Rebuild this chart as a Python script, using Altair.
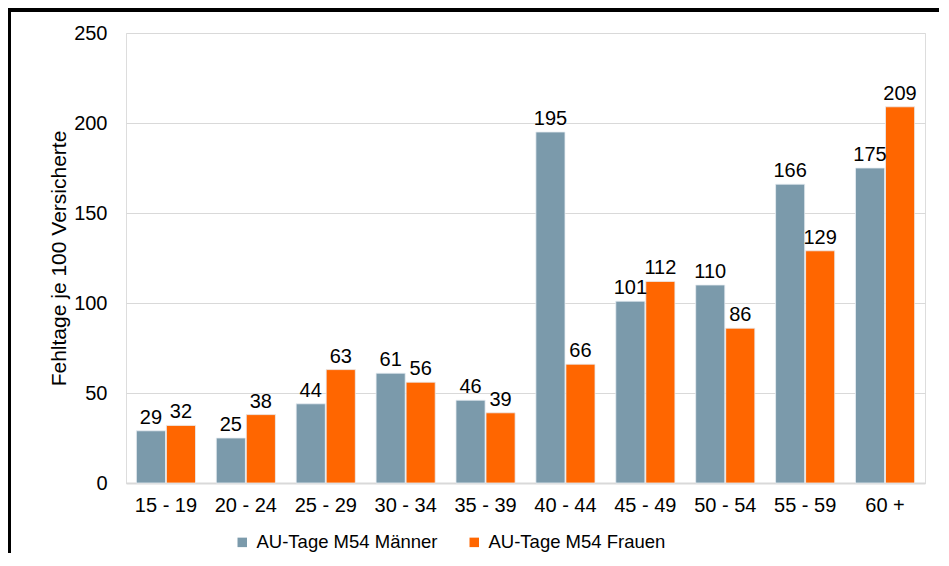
import altair as alt
import pandas as pd

categories = ["15 - 19", "20 - 24", "25 - 29", "30 - 34", "35 - 39",
              "40 - 44", "45 - 49", "50 - 54", "55 - 59", "60 +"]
series = ["AU-Tage M54 Männer", "AU-Tage M54 Frauen"]
maenner = [29, 25, 44, 61, 46, 195, 101, 110, 166, 175]
frauen = [32, 38, 63, 56, 39, 66, 112, 86, 129, 209]
colors = ["#7b9aab", "#ff6600"]

rows = []
for c, m, f in zip(categories, maenner, frauen):
    rows.append({"Altersgruppe": c, "Serie": series[0], "Wert": m})
    rows.append({"Altersgruppe": c, "Serie": series[1], "Wert": f})
df = pd.DataFrame(rows)

FONT = "Liberation Sans"

xenc = alt.X("Altersgruppe:N", sort=categories, title=None,
             scale=alt.Scale(paddingInner=0.26, paddingOuter=0.13),
             axis=alt.Axis(labelAngle=0, labelFontSize=20, labelColor="#000000",
                           labelPadding=12, ticks=False, domainColor="#d9d9d9",
                           domainWidth=2, labelFont=FONT))
xoff = alt.XOffset("Serie:N", sort=series, scale=alt.Scale(paddingInner=0.03))
yenc = alt.Y("Wert:Q", title="Fehltage je 100 Versicherte",
             scale=alt.Scale(domain=[0, 250], nice=False),
             axis=alt.Axis(values=[0, 50, 100, 150, 200, 250], domain=False, ticks=False,
                           labelFontSize=20, labelColor="#000000", labelPadding=19,
                           gridColor="#d9d9d9", gridWidth=1, titleFontSize=21,
                           titleFontWeight="normal", titleColor="#000000",
                           titlePadding=4, labelFont=FONT, titleFont=FONT))

bars = alt.Chart(df).mark_bar(stroke="#e8eef2", strokeWidth=0.8).encode(
    x=xenc, xOffset=xoff, y=yenc,
    color=alt.Color("Serie:N", sort=series,
                    scale=alt.Scale(domain=series, range=colors),
                    legend=alt.Legend(title=None, orient="none", legendX=107, legendY=500,
                                      direction="horizontal", padding=0,
                                      symbolType="square", symbolSize=90,
                                      symbolStrokeWidth=0, labelFontSize=18.5,
                                      labelColor="#000000", labelFont=FONT,
                                      labelOffset=5, columnPadding=27, labelLimit=300)),
)

labels = alt.Chart(df).mark_text(fontSize=20, baseline="alphabetic", dy=-7,
                                 color="#000000", font=FONT).encode(
    x=alt.X("Altersgruppe:N", sort=categories), xOffset=xoff,
    y=alt.Y("Wert:Q"), text=alt.Text("Wert:Q"),
)

frame_left = alt.Chart(df).mark_rule(color="#000000", strokeWidth=3, clip=False).encode(
    x=alt.value(-117), y=alt.value(-23), y2=alt.value(600))
frame_top = alt.Chart(df).mark_rule(color="#000000", strokeWidth=3, clip=False).encode(
    x=alt.value(-118), x2=alt.value(850), y=alt.value(-23))

chart = alt.layer(bars, labels, frame_left, frame_top).properties(
    width=799, height=450,
    autosize=alt.AutoSizeParams(type="none"),
    padding={"left": 118, "top": 25, "right": 14, "bottom": 70},
).configure_view(stroke=None).configure(background="#ffffff")

chart.save("out.html", embed_options={"renderer": "svg", "actions": False})
